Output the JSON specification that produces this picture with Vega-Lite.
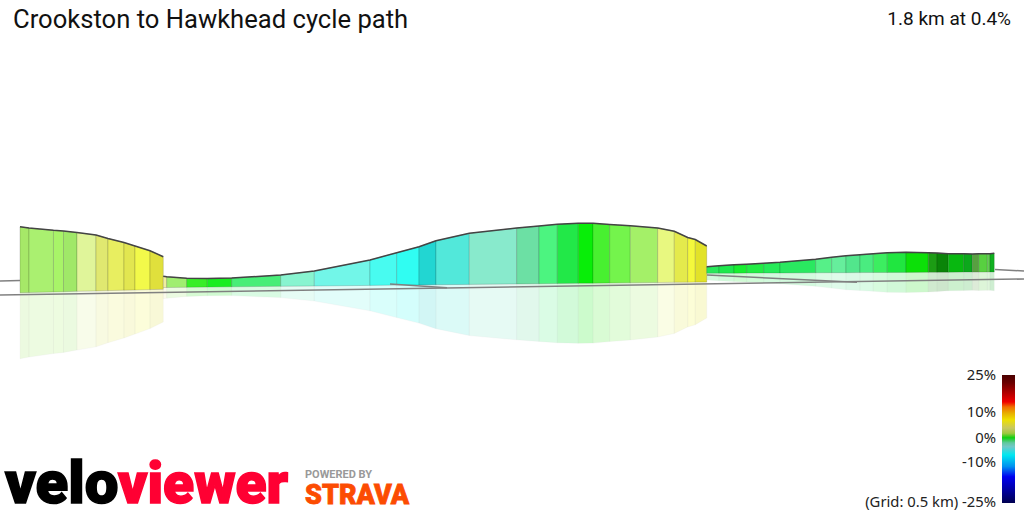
{
  "$schema": "https://vega.github.io/schema/vega-lite/v6.json",
  "width": 1024,
  "height": 512,
  "autosize": {"type": "none"},
  "padding": 0,
  "background": "white",
  "config": {"view": {"stroke": null}},
  "datasets": {
    "profile": [
      {"s":1,"g":1,"d":0,"t":28.53,"b":21.93,"r":15.33},{"s":1,"g":1,"d":16.6,"t":28.4,"b":21.95,"r":15.5},
      {"s":1,"g":2,"d":16.6,"t":28.4,"b":21.95,"r":15.5},{"s":1,"g":2,"d":61.8,"t":28.17,"b":22.01,"r":15.85},
      {"s":1,"g":3,"d":61.8,"t":28.17,"b":22.01,"r":15.85},{"s":1,"g":3,"d":80.3,"t":28.1,"b":22.03,"r":15.96},
      {"s":1,"g":4,"d":80.3,"t":28.1,"b":22.03,"r":15.96},{"s":1,"g":4,"d":105.2,"t":27.94,"b":22.07,"r":16.2},
      {"s":1,"g":5,"d":105.2,"t":27.94,"b":22.07,"r":16.2},{"s":1,"g":5,"d":140.3,"t":27.7,"b":22.11,"r":16.52},
      {"s":1,"g":6,"d":140.3,"t":27.7,"b":22.11,"r":16.52},{"s":1,"g":6,"d":162.4,"t":27.35,"b":22.14,"r":16.93},
      {"s":1,"g":7,"d":162.4,"t":27.35,"b":22.14,"r":16.93},{"s":1,"g":7,"d":192,"t":26.95,"b":22.18,"r":17.41},
      {"s":1,"g":8,"d":192,"t":26.95,"b":22.18,"r":17.41},{"s":1,"g":8,"d":212.3,"t":26.6,"b":22.2,"r":17.8},
      {"s":1,"g":9,"d":212.3,"t":26.6,"b":22.2,"r":17.8},{"s":1,"g":9,"d":240,"t":26.13,"b":22.24,"r":18.35},
      {"s":1,"g":10,"d":240,"t":26.13,"b":22.24,"r":18.35},{"s":1,"g":10,"d":264.5,"t":25.53,"b":22.27,"r":19.01},

      {"s":2,"g":11,"d":264.5,"t":23.57,"b":22.45,"r":21.33},{"s":2,"g":11,"d":270.8,"t":23.52,"b":22.45,"r":21.38},
      {"s":2,"g":12,"d":270.8,"t":23.52,"b":22.45,"r":21.38},{"s":2,"g":12,"d":307.7,"t":23.38,"b":22.47,"r":21.56},
      {"s":2,"g":13,"d":307.7,"t":23.38,"b":22.47,"r":21.56},{"s":2,"g":13,"d":345.8,"t":23.35,"b":22.49,"r":21.63},
      {"s":2,"g":14,"d":345.8,"t":23.35,"b":22.49,"r":21.63},{"s":2,"g":14,"d":390.8,"t":23.4,"b":22.52,"r":21.64},
      {"s":2,"g":15,"d":390.8,"t":23.4,"b":22.52,"r":21.64},{"s":2,"g":15,"d":481.3,"t":23.7,"b":22.57,"r":21.44},
      {"s":2,"g":16,"d":481.3,"t":23.7,"b":22.57,"r":21.44},{"s":2,"g":16,"d":543.3,"t":24.1,"b":22.6,"r":21.1},
      {"s":2,"g":17,"d":543.3,"t":24.1,"b":22.6,"r":21.1},{"s":2,"g":17,"d":646.1,"t":25.2,"b":22.66,"r":20.12},
      {"s":2,"g":18,"d":646.1,"t":25.2,"b":22.66,"r":20.12},{"s":2,"g":18,"d":695.4,"t":25.93,"b":22.69,"r":19.45},
      {"s":2,"g":19,"d":695.4,"t":25.93,"b":22.69,"r":19.45},{"s":2,"g":19,"d":736.6,"t":26.53,"b":22.71,"r":18.89},
      {"s":2,"g":20,"d":736.6,"t":26.53,"b":22.71,"r":18.89},{"s":2,"g":20,"d":767.9,"t":27.13,"b":22.73,"r":18.33},
      {"s":2,"g":21,"d":767.9,"t":27.13,"b":22.73,"r":18.33},{"s":2,"g":21,"d":829.4,"t":27.87,"b":22.76,"r":17.65},
      {"s":2,"g":22,"d":829.4,"t":27.87,"b":22.76,"r":17.65},{"s":2,"g":22,"d":916.9,"t":28.4,"b":22.81,"r":17.22},
      {"s":2,"g":23,"d":916.9,"t":28.4,"b":22.81,"r":17.22},{"s":2,"g":23,"d":958.1,"t":28.6,"b":22.83,"r":17.06},
      {"s":2,"g":24,"d":958.1,"t":28.6,"b":22.83,"r":17.06},{"s":2,"g":24,"d":991.9,"t":28.77,"b":22.85,"r":16.93},
      {"s":2,"g":25,"d":991.9,"t":28.77,"b":22.85,"r":16.93},{"s":2,"g":25,"d":1030.6,"t":28.87,"b":22.87,"r":16.87},
      {"s":2,"g":26,"d":1030.6,"t":28.87,"b":22.87,"r":16.87},{"s":2,"g":26,"d":1057.8,"t":28.87,"b":22.88,"r":16.89},
      {"s":2,"g":27,"d":1057.8,"t":28.87,"b":22.88,"r":16.89},{"s":2,"g":27,"d":1088.6,"t":28.75,"b":22.9,"r":17.05},
      {"s":2,"g":28,"d":1088.6,"t":28.75,"b":22.9,"r":17.05},{"s":2,"g":28,"d":1126.6,"t":28.63,"b":22.92,"r":17.21},
      {"s":2,"g":29,"d":1126.6,"t":28.63,"b":22.92,"r":17.21},{"s":2,"g":29,"d":1177.2,"t":28.4,"b":22.95,"r":17.5},
      {"s":2,"g":30,"d":1177.2,"t":28.4,"b":22.95,"r":17.5},{"s":2,"g":30,"d":1207.8,"t":28.08,"b":22.97,"r":17.86},
      {"s":2,"g":31,"d":1207.8,"t":28.08,"b":22.97,"r":17.86},{"s":2,"g":31,"d":1232.6,"t":27.45,"b":22.98,"r":18.51},
      {"s":2,"g":32,"d":1232.6,"t":27.45,"b":22.98,"r":18.51},{"s":2,"g":32,"d":1246.6,"t":27.25,"b":22.99,"r":18.73},
      {"s":2,"g":33,"d":1246.6,"t":27.25,"b":22.99,"r":18.73},{"s":2,"g":33,"d":1267.7,"t":26.6,"b":23.0,"r":19.4},

      {"s":3,"g":34,"d":1267.7,"t":24.53,"b":23.87,"r":23.21},{"s":3,"g":34,"d":1290.4,"t":24.63,"b":23.88,"r":23.13},
      {"s":3,"g":35,"d":1290.4,"t":24.63,"b":23.88,"r":23.13},{"s":3,"g":35,"d":1318,"t":24.72,"b":23.88,"r":23.04},
      {"s":3,"g":36,"d":1318,"t":24.72,"b":23.88,"r":23.04},{"s":3,"g":36,"d":1341.5,"t":24.78,"b":23.89,"r":23},
      {"s":3,"g":37,"d":1341.5,"t":24.78,"b":23.89,"r":23},{"s":3,"g":37,"d":1372.9,"t":24.87,"b":23.9,"r":22.93},
      {"s":3,"g":38,"d":1372.9,"t":24.87,"b":23.9,"r":22.93},{"s":3,"g":38,"d":1403,"t":24.97,"b":23.9,"r":22.83},
      {"s":3,"g":39,"d":1403,"t":24.97,"b":23.9,"r":22.83},{"s":3,"g":39,"d":1468.9,"t":25.27,"b":23.92,"r":22.57},
      {"s":3,"g":40,"d":1468.9,"t":25.27,"b":23.92,"r":22.57},{"s":3,"g":40,"d":1498.4,"t":25.47,"b":23.93,"r":22.39},
      {"s":3,"g":41,"d":1498.4,"t":25.47,"b":23.93,"r":22.39},{"s":3,"g":41,"d":1524.8,"t":25.63,"b":23.93,"r":22.23},
      {"s":3,"g":42,"d":1524.8,"t":25.63,"b":23.93,"r":22.23},{"s":3,"g":42,"d":1550.6,"t":25.73,"b":23.94,"r":22.15},
      {"s":3,"g":43,"d":1550.6,"t":25.73,"b":23.94,"r":22.15},{"s":3,"g":43,"d":1575.2,"t":25.83,"b":23.95,"r":22.07},
      {"s":3,"g":44,"d":1575.2,"t":25.83,"b":23.95,"r":22.07},{"s":3,"g":44,"d":1601,"t":25.93,"b":23.95,"r":21.97},
      {"s":3,"g":45,"d":1601,"t":25.93,"b":23.95,"r":21.97},{"s":3,"g":45,"d":1635.6,"t":25.97,"b":23.96,"r":21.95},
      {"s":3,"g":46,"d":1635.6,"t":25.97,"b":23.96,"r":21.95},{"s":3,"g":46,"d":1676.7,"t":25.93,"b":23.97,"r":22.01},
      {"s":3,"g":47,"d":1676.7,"t":25.93,"b":23.97,"r":22.01},{"s":3,"g":47,"d":1692.8,"t":25.9,"b":23.97,"r":22.04},
      {"s":3,"g":48,"d":1692.8,"t":25.9,"b":23.97,"r":22.04},{"s":3,"g":48,"d":1713.6,"t":25.83,"b":23.98,"r":22.13},
      {"s":3,"g":49,"d":1713.6,"t":25.83,"b":23.98,"r":22.13},{"s":3,"g":49,"d":1742.1,"t":25.83,"b":23.99,"r":22.15},
      {"s":3,"g":50,"d":1742.1,"t":25.83,"b":23.99,"r":22.15},{"s":3,"g":50,"d":1758,"t":25.8,"b":23.99,"r":22.18},
      {"s":3,"g":51,"d":1758,"t":25.8,"b":23.99,"r":22.18},{"s":3,"g":51,"d":1769.8,"t":25.83,"b":23.99,"r":22.15},
      {"s":3,"g":52,"d":1769.8,"t":25.83,"b":23.99,"r":22.15},{"s":3,"g":52,"d":1785.7,"t":25.83,"b":24,"r":22.17},
      {"s":3,"g":53,"d":1785.7,"t":25.83,"b":24,"r":22.17},{"s":3,"g":53,"d":1790.6,"t":25.83,"b":24,"r":22.17},
      {"s":3,"g":54,"d":1790.6,"t":25.83,"b":24,"r":22.17},{"s":3,"g":54,"d":1798.5,"t":25.87,"b":24,"r":22.13}
    ],
    "grid": [
      {"l":"front","d":-36.92,"e":21.7},{"l":"front","d":1853.4,"e":23.3},
      {"l":"left","d":-36.92,"e":23.1},{"l":"left","d":0,"e":23.15},
      {"l":"mid","d":683,"e":22.8},{"l":"mid","d":788.2,"e":22.42},
      {"l":"right1","d":1268.2,"e":23.7},{"l":"right1","d":1545.1,"e":22.97},
      {"l":"right2","d":1799.9,"e":24.25},{"l":"right2","d":1853.4,"e":24.1}
    ]
  },
  "encoding": {
    "x": {"field": "d", "type": "quantitative", "axis": null, "scale": {"domain": [-36.92, 1853.4], "nice": false, "zero": false}},
    "y": {"type": "quantitative", "axis": null, "scale": {"domain": [0, 51.2], "nice": false, "zero": false}}
  },
  "layer": [
    {
      "data": {"name": "profile"},
      "mark": {"type": "area", "opacity": 0.2, "stroke": "#000", "strokeOpacity": 0.1, "strokeWidth": 1},
      "encoding": {
        "y": {"field": "b", "type": "quantitative", "stack": null},
        "y2": {"field": "r"},
        "color": {"field": "g", "type": "nominal", "legend": null, "scale": {"range": ["#a6e868","#aaf070","#a8f468","#a0e868","#e0f59a","#e0e870","#e8ee60","#e2e650","#f2f94a","#e0e03c","#f0eea0","#a0ee70","#38ee28","#18ee20","#48ee78","#88f4d0","#72f6e8","#48fbf0","#30fdf2","#22d6d2","#52e8da","#88eacc","#6ce0a4","#4cf480","#22e848","#08ee08","#48f030","#74f44c","#a4f068","#e8f880","#e4ea4c","#f4f83c","#e2e228","#28e85a","#1ee84c","#18ee30","#22ec44","#26ea58","#2ae860","#56f088","#66ee9c","#52e68c","#4aec80","#3cee60","#20e640","#0ce008","#1c9c14","#0a8408","#08b810","#0ca81c","#58a040","#58d040","#60d050","#10b020"]}}
      }
    },
    {
      "data": {"name": "profile"},
      "mark": {"type": "area", "stroke": "#000", "strokeOpacity": 0.15, "strokeWidth": 1},
      "encoding": {
        "y": {"field": "t", "type": "quantitative", "stack": null},
        "y2": {"field": "b"},
        "color": {"field": "g", "type": "nominal", "legend": null}
      }
    },
    {
      "data": {"name": "grid"},
      "mark": {"type": "line", "color": "#808080", "strokeWidth": 1.5},
      "encoding": {
        "y": {"field": "e", "type": "quantitative"},
        "detail": {"field": "l"}
      }
    },
    {
      "data": {"name": "profile"},
      "mark": {"type": "line", "color": "#444444", "strokeWidth": 1.5},
      "encoding": {
        "y": {"field": "t", "type": "quantitative"},
        "detail": {"field": "s"}
      }
    },
    {
      "data": {"values": [{"d": 1812.8, "d2": 1836.8, "e": 13.7, "e2": 0.9}]},
      "mark": {"type": "rect", "color": {"gradient": "linear", "x1": 0, "y1": 0, "x2": 0, "y2": 1, "stops": [
        {"offset": 0, "color": "#4a0000"},
        {"offset": 0.06, "color": "#6a0000"},
        {"offset": 0.21, "color": "#f00000"},
        {"offset": 0.25, "color": "#f07000"},
        {"offset": 0.3, "color": "#e8b000"},
        {"offset": 0.35, "color": "#eee000"},
        {"offset": 0.415, "color": "#c8c860"},
        {"offset": 0.455, "color": "#a0c840"},
        {"offset": 0.49, "color": "#10d010"},
        {"offset": 0.53, "color": "#60c8a0"},
        {"offset": 0.56, "color": "#70c8c8"},
        {"offset": 0.625, "color": "#00e8f0"},
        {"offset": 0.715, "color": "#0090f0"},
        {"offset": 0.795, "color": "#0000f0"},
        {"offset": 0.9, "color": "#0000a0"},
        {"offset": 1, "color": "#000050"}
      ]}},
      "encoding": {
        "x2": {"field": "d2"},
        "y": {"field": "e", "type": "quantitative"},
        "y2": {"field": "e2"}
      }
    },
    {
      "data": {"values": [
        {"d": 1801.7, "e": 13.2, "t": "25%"},
        {"d": 1801.7, "e": 9.47, "t": "10%"},
        {"d": 1801.7, "e": 6.93, "t": "0%"},
        {"d": 1801.7, "e": 4.47, "t": "-10%"},
        {"d": 1801.7, "e": 0.53, "t": "(Grid: 0.5 km) -25%"}
      ]},
      "mark": {"type": "text", "align": "right", "baseline": "alphabetic", "font": "Noto Sans", "fontSize": 14.8, "color": "#222222"},
      "encoding": {"y": {"field": "e", "type": "quantitative"}, "text": {"field": "t"}}
    },
    {
      "data": {"values": [{"d": -12.9, "e": 48.4, "t": "Crookston to Hawkhead cycle path"}]},
      "mark": {"type": "text", "align": "left", "baseline": "alphabetic", "font": "Roboto", "fontSize": 25.6, "color": "#111111"},
      "encoding": {"y": {"field": "e", "type": "quantitative"}, "text": {"field": "t"}}
    },
    {
      "data": {"values": [{"d": 1829.4, "e": 48.7, "t": "1.8 km at 0.4%"}]},
      "mark": {"type": "text", "align": "right", "baseline": "alphabetic", "font": "Roboto", "fontSize": 19, "color": "#111111"},
      "encoding": {"y": {"field": "e", "type": "quantitative"}, "text": {"field": "t"}}
    },
    {
      "data": {"values": [{"d": -27.7, "e": 0.9, "t": "velo"}]},
      "mark": {"type": "text", "align": "left", "baseline": "alphabetic", "font": "Roboto", "fontWeight": 900, "fontSize": 60, "color": "#000000", "stroke": "#000000", "strokeWidth": 1.5},
      "encoding": {"y": {"field": "e", "type": "quantitative"}, "text": {"field": "t"}}
    },
    {
      "data": {"values": [{"d": 180.9, "e": 0.9, "t": "viewer"}]},
      "mark": {"type": "text", "align": "left", "baseline": "alphabetic", "font": "Roboto", "fontWeight": 900, "fontSize": 57, "color": "#ff0033", "stroke": "#ff0033", "strokeWidth": 1.5},
      "encoding": {"y": {"field": "e", "type": "quantitative"}, "text": {"field": "t"}}
    },
    {
      "data": {"values": [{"d": 526.1, "e": 3.4, "t": "POWERED BY"}]},
      "mark": {"type": "text", "align": "left", "baseline": "alphabetic", "font": "Roboto", "fontWeight": 700, "fontSize": 11, "color": "#999999"},
      "encoding": {"y": {"field": "e", "type": "quantitative"}, "text": {"field": "t"}}
    },
    {
      "data": {"values": [{"d": 526.1, "e": 0.8, "t": "STRAVA"}]},
      "mark": {"type": "text", "align": "left", "baseline": "alphabetic", "font": "Roboto", "fontWeight": 900, "fontSize": 27, "color": "#fc4c02", "stroke": "#fc4c02", "strokeWidth": 0.8},
      "encoding": {"y": {"field": "e", "type": "quantitative"}, "text": {"field": "t"}}
    }
  ]
}
